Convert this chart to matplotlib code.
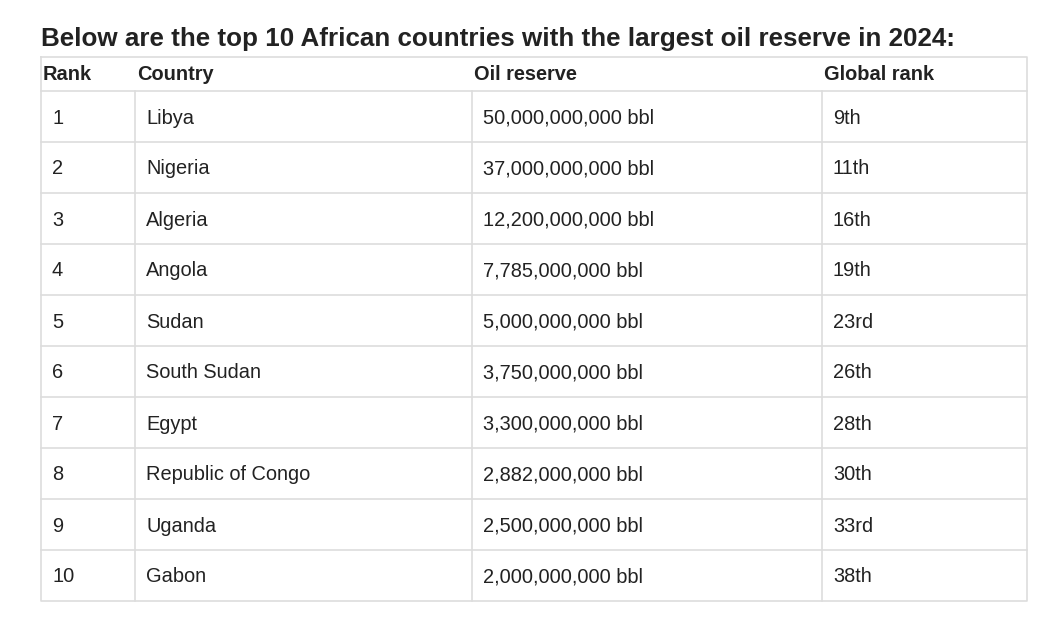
import matplotlib.pyplot as plt

plt.rcParams['font.family'] = ['Liberation Sans', 'DejaVu Sans']

title = "Below are the top 10 African countries with the largest oil reserve in 2024:"
headers = ["Rank", "Country", "Oil reserve", "Global rank"]
ranks = ["1", "2", "3", "4", "5", "6", "7", "8", "9", "10"]
countries = ["Libya", "Nigeria", "Algeria", "Angola", "Sudan", "South Sudan",
             "Egypt", "Republic of Congo", "Uganda", "Gabon"]
reserves = ["50,000,000,000 bbl", "37,000,000,000 bbl", "12,200,000,000 bbl",
            "7,785,000,000 bbl", "5,000,000,000 bbl", "3,750,000,000 bbl",
            "3,300,000,000 bbl", "2,882,000,000 bbl", "2,500,000,000 bbl",
            "2,000,000,000 bbl"]
global_ranks = ["9th", "11th", "16th", "19th", "23rd", "26th", "28th", "30th",
                "33rd", "38th"]

W, H = 1063, 625
fig = plt.figure(figsize=(W / 100, H / 100), dpi=100)
ax = fig.add_axes([0, 0, 1, 1])
ax.set_xlim(0, W)
ax.set_ylim(H, 0)
ax.axis('off')

line_c = '#dddddd'
text_c = '#222222'
fs = 14.4

# table geometry in pixels
left, right = 41, 1027
top, head_bot = 57, 91
row_h = 51
col_x = [left, 135, 472, 822]
bottom = head_bot + row_h * len(ranks)

ax.text(left, 39, title, fontsize=18.75, fontweight='bold', color=text_c,
        ha='left', va='center')

# outer border and horizontal lines
ax.plot([left, right, right, left, left], [top, top, bottom, bottom, top],
        color=line_c, lw=1.2)
for i in range(len(ranks)):
    y = head_bot + i * row_h
    ax.plot([left, right], [y, y], color=line_c, lw=1.2)
# column separators only in body
for x in col_x[1:]:
    ax.plot([x, x], [head_bot, bottom], color=line_c, lw=1.2)

for j, h in enumerate(headers):
    ax.text(col_x[j] + 2, (top + head_bot) / 2 + 1, h, fontsize=fs,
            fontweight='bold', color=text_c, ha='left', va='center')

columns = [ranks, countries, reserves, global_ranks]
for j, col in enumerate(columns):
    for i, val in enumerate(col):
        yc = head_bot + i * row_h + row_h / 2 + 1.5
        ax.text(col_x[j] + 11, yc, val, fontsize=fs, color=text_c,
                ha='left', va='center')

fig.savefig('out.png', dpi=100, facecolor='white')
